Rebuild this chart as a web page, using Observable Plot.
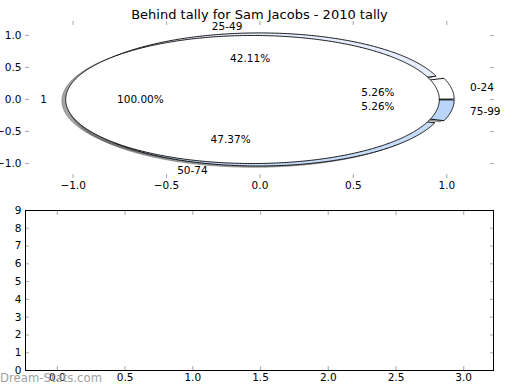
<!DOCTYPE html>
<html><head><meta charset="utf-8">
<script src="https://cdn.jsdelivr.net/npm/d3@7"></script>
<script src="https://cdn.jsdelivr.net/npm/@observablehq/plot@0.6"></script>
<style>
body{margin:0;background:#fff;}
#chart{position:relative;width:520px;height:390px;overflow:hidden;font-family:"DejaVu Sans",sans-serif;background:#fff;}
#chart svg{display:block;}
#wm{position:absolute;left:0;top:373px;font-size:11.7px;line-height:1;color:#a0a0a0;font-family:"DejaVu Sans",sans-serif;}
</style></head><body><div id="chart"></div>
<script>
// ---- data ----
const title = "Behind tally for Sam Jacobs - 2010 tally";
const outerLabels = ["0-24", "25-49", "50-74", "75-99"];
const outerCounts = [1, 8, 9, 1];
const outerColors = ["#ffffff", "#e6eeff", "#c6dcf9", "#b9d5f9"];
const innerLabels = ["1"];
const innerCounts = [1];
const innerColors = ["#ffffff"];
const topTicks = [-1, -0.5, 0, 0.5, 1];
const bottomXTicks = [0, 0.5, 1, 1.5, 2, 2.5, 3];
const bottomYTicks = [0, 1, 2, 3, 4, 5, 6, 7, 8, 9];
const watermark = "Dream-Stats.com";

const explode = 0.04, labelDist = 1.1, pctDist = 0.6, radius = 1;
const shadowOffset = [-0.02, -0.02];
const tickGray = "#b4b4b4";
const fmt1 = d => d.toFixed(1).replace("-", "\u2212");

// build pie geometry from counts
function pieSlices(labels, counts, colors) {
  const total = d3.sum(counts);
  let acc = 0;
  return counts.map((c, i) => {
    const t0 = acc / total * 2 * Math.PI;
    acc += c;
    const t1 = acc / total * 2 * Math.PI;
    const tm = (t0 + t1) / 2;
    const cx = explode * Math.cos(tm), cy = explode * Math.sin(tm);
    const full = counts.length === 1;
    const pts = [];
    if (!full) pts.push([cx, cy]);
    const n = Math.max(4, Math.ceil((t1 - t0) / (Math.PI / 360)));
    for (let k = 0; k <= n; k++) {
      const t = t0 + (t1 - t0) * k / n;
      pts.push([cx + radius * Math.cos(t), cy + radius * Math.sin(t)]);
    }
    if (!full) pts.push([cx, cy]);
    const lx = cx + labelDist * radius * Math.cos(tm);
    const ly = cy + labelDist * radius * Math.sin(tm);
    return {
      label: labels[i], color: colors[i], pts,
      lx, ly, right: lx > 0,
      px: cx + pctDist * radius * Math.cos(tm),
      py: cy + pctDist * radius * Math.sin(tm),
      pct: (c / total * 100).toFixed(2) + "%"
    };
  });
}
const outer = pieSlices(outerLabels, outerCounts, outerColors);
const inner = pieSlices(innerLabels, innerCounts, innerColors);
const allSlices = [...outer, ...inner];

const shadowMarks = allSlices.map(s =>
  Plot.line(s.pts, {x: d => d[0] + shadowOffset[0], y: d => d[1] + shadowOffset[1],
    fill: "#4d4d4d", fillOpacity: 0.5, stroke: "#4d4d4d", strokeOpacity: 0.5, strokeWidth: 0.9})
);
const wedgeMarks = allSlices.map(s =>
  Plot.line(s.pts, {x: d => d[0], y: d => d[1], fill: s.color, stroke: "#000", strokeWidth: 0.9, strokeLinejoin: "miter"})
);

const fontSize = 10.5;

const topPlot = Plot.plot({
  width: 520, height: 200,
  marginTop: 20, marginBottom: 22, marginLeft: 25, marginRight: 27,
  style: {fontFamily: "DejaVu Sans, sans-serif", fontSize: fontSize + "px", background: "#fff", color: "#000", overflow: "visible"},
  x: {domain: [-1.255, 1.25]},
  y: {domain: [-1.234, 1.234]},
  marks: [
    ...shadowMarks,
    ...wedgeMarks,
    Plot.text(allSlices.filter(d => d.right), {x: "lx", y: "ly", text: "label", textAnchor: "start", fontSize, fill: "#000"}),
    Plot.text(allSlices.filter(d => !d.right), {x: "lx", y: "ly", text: "label", textAnchor: "end", fontSize, fill: "#000"}),
    Plot.text(allSlices, {x: "px", y: "py", text: "pct", fontSize, fill: "#000"}),
    Plot.axisX(topTicks, {anchor: "bottom", tickSize: -4, tickFormat: () => "", label: null, stroke: tickGray, strokeWidth: 1.2}),
    Plot.axisX(topTicks, {anchor: "top", tickSize: -4, tickFormat: () => "", label: null, stroke: tickGray, strokeWidth: 1.2}),
    Plot.axisY(topTicks, {anchor: "left", tickSize: -4, tickFormat: () => "", label: null, stroke: tickGray, strokeWidth: 1.2}),
    Plot.axisY(topTicks, {anchor: "right", tickSize: -4, tickFormat: () => "", label: null, stroke: tickGray, strokeWidth: 1.2}),
    Plot.axisX(topTicks, {anchor: "bottom", tickSize: 0, tickPadding: 3, tickFormat: fmt1, label: null, fontSize, fill: "#000"}),
    Plot.axisY(topTicks, {anchor: "left", tickSize: 0, tickPadding: 4, tickFormat: fmt1, label: null, fontSize, fill: "#000"}),
    Plot.text([title], {frameAnchor: "top", dy: -11, text: d => d, fontSize: 13, fill: "#000"})
  ]
});

const bottomPlot = Plot.plot({
  width: 520, height: 190,
  marginTop: 10, marginBottom: 20, marginLeft: 25, marginRight: 27,
  style: {fontFamily: "DejaVu Sans, sans-serif", fontSize: fontSize + "px", background: "#fff", color: "#000", overflow: "visible"},
  x: {domain: [-0.235, 3.22]},
  y: {domain: [0, 9]},
  marks: [
    Plot.axisX(bottomXTicks, {anchor: "bottom", tickSize: -4, tickFormat: () => "", label: null, stroke: tickGray, strokeWidth: 1.2}),
    Plot.axisX(bottomXTicks, {anchor: "top", tickSize: -4, tickFormat: () => "", label: null, stroke: tickGray, strokeWidth: 1.2}),
    Plot.axisY(bottomYTicks, {anchor: "left", tickSize: -4, tickFormat: () => "", label: null, stroke: tickGray, strokeWidth: 1.2}),
    Plot.axisY(bottomYTicks, {anchor: "right", tickSize: -4, tickFormat: () => "", label: null, stroke: tickGray, strokeWidth: 1.2}),
    Plot.frame({stroke: "#000", strokeWidth: 1}),
    Plot.axisX(bottomXTicks, {anchor: "bottom", tickSize: 0, tickPadding: 3, tickFormat: fmt1, label: null, fontSize, fill: "#000"}),
    Plot.axisY(bottomYTicks, {anchor: "left", tickSize: 0, tickPadding: 4, tickFormat: d => String(d), label: null, fontSize, fill: "#000"})
  ]
});

const chart = document.getElementById("chart");
chart.appendChild(topPlot);
chart.appendChild(bottomPlot);
const wm = document.createElement("div");
wm.id = "wm";
wm.textContent = watermark;
chart.appendChild(wm);
</script></body></html>
